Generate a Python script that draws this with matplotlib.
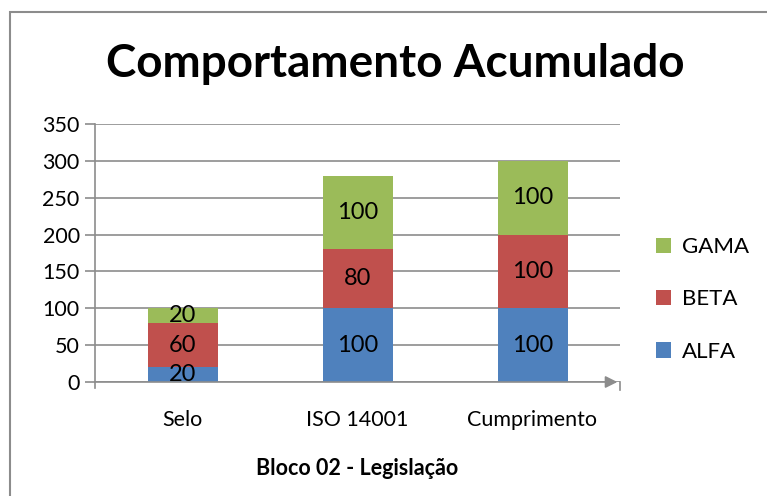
import matplotlib
matplotlib.use("Agg")
import matplotlib.pyplot as plt
from matplotlib.patches import Rectangle
import numpy as np

categories = ["Selo", "ISO 14001", "Cumprimento"]
alfa = [20, 100, 100]
beta = [60, 80, 100]
gama = [20, 100, 100]
series = [("ALFA", alfa, "#4F81BD"), ("BETA", beta, "#C0504D"), ("GAMA", gama, "#9BBB59")]
yticks = [0, 50, 100, 150, 200, 250, 300, 350]

plt.rcParams['font.family'] = ['Lato', 'DejaVu Sans']

fig = plt.figure(figsize=(7.67, 4.96), dpi=100)
fig.patches.append(Rectangle((10/767, -0.1), 1.2, 1 - 12/496 + 0.1, transform=fig.transFigure,
                             fill=False, edgecolor="#8c8c8c", linewidth=1.5))
ax = fig.add_axes([95/767, 1 - 382/496, 525/767, (382 - 124)/496])

x = np.arange(len(categories))
bottom = np.zeros(len(categories))
handles = []
for name, vals, col in series:
    b = ax.bar(x, vals, 0.4, bottom=bottom, color=col, label=name, zorder=3)
    handles.append(b)
    for xi, v, bt in zip(x, vals, bottom):
        ax.text(xi, bt + v / 2, str(v), ha="center", va="center", fontsize=17, zorder=4)
    bottom += np.array(vals)

ax.set_xlim(-0.5, 2.5)
ax.set_ylim(0, 350)
ax.set_yticks(yticks)
ax.set_xticks(x)
ax.set_xticklabels(categories, fontsize=15.5)
ax.tick_params(axis="y", labelsize=15.5, length=7, color="#8c8c8c", width=1.2, pad=4)
ax.tick_params(axis="x", length=0, pad=20)
ax.yaxis.grid(True, color="#8c8c8c", linewidth=1.2, zorder=0)
for s in ["top", "right", "bottom"]:
    ax.spines[s].set_visible(False)
ax.spines["left"].set_color("#8c8c8c")
ax.spines["left"].set_linewidth(1.2)
ax.spines["left"].set_bounds(-8, 350)
ax.annotate("", xy=(0.995, 0), xytext=(0, 0), xycoords="axes fraction",
            arrowprops=dict(arrowstyle="-|>", color="#8c8c8c", lw=1.2, mutation_scale=18,
                            shrinkA=0, shrinkB=0),
            annotation_clip=False)
ax.plot([1.0, 1.0], [0, -0.03], transform=ax.transAxes, color="#8c8c8c", lw=1.2, clip_on=False)
ax.set_xlabel("Bloco 02 - Legislação", fontsize=15.5, fontweight="bold", labelpad=20)

fig.text(395/767, 1 - 64/496, "Comportamento Acumulado", ha="center", va="center",
         fontsize=33, fontweight="bold")

leg = ax.legend(handles=handles[::-1], loc="center left", bbox_to_anchor=(1.03, 0.32),
                frameon=False, fontsize=16, handlelength=0.7, handleheight=0.7,
                labelspacing=1.45, handletextpad=0.5)

fig.savefig("out.png", dpi=100)
